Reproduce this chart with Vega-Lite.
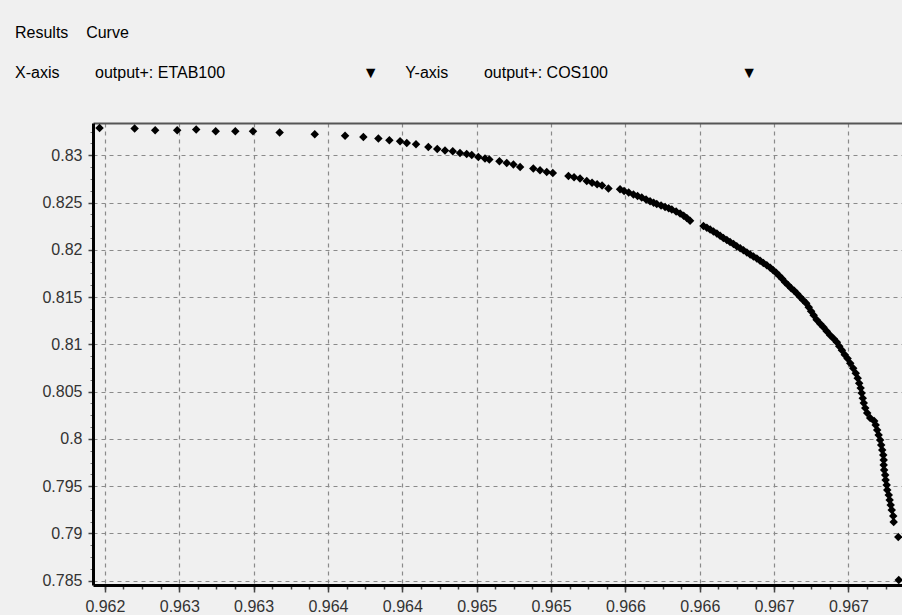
{
  "$schema": "https://vega.github.io/schema/vega-lite/v6.json",
  "width": 809,
  "height": 462,
  "autosize": {"type": "none"},
  "padding": {"left": 93, "top": 123, "right": 0, "bottom": 30},
  "background": "#f0f0f0",
  "title": {
    "text": "Results\u00a0\u00a0\u00a0\u00a0Curve",
    "subtitle": "\u00a0\u00a0X-axis\u00a0\u00a0\u00a0\u00a0\u00a0\u00a0\u00a0\u00a0output+: ETAB100\u00a0\u00a0\u00a0\u00a0\u00a0\u00a0\u00a0\u00a0\u00a0\u00a0\u00a0\u00a0\u00a0\u00a0\u00a0\u00a0\u00a0\u00a0\u00a0\u00a0\u00a0\u00a0\u00a0\u00a0\u00a0\u00a0\u00a0\u00a0\u00a0\u00a0\u00a0\u25bc\u00a0\u00a0\u00a0\u00a0\u00a0\u00a0Y-axis\u00a0\u00a0\u00a0\u00a0\u00a0\u00a0\u00a0\u00a0output+: COS100\u00a0\u00a0\u00a0\u00a0\u00a0\u00a0\u00a0\u00a0\u00a0\u00a0\u00a0\u00a0\u00a0\u00a0\u00a0\u00a0\u00a0\u00a0\u00a0\u00a0\u00a0\u00a0\u00a0\u00a0\u00a0\u00a0\u00a0\u00a0\u00a0\u00a0\u25bc",
    "anchor": "start",
    "frame": "group",
    "dx": -78,
    "offset": 42,
    "font": "Liberation Sans",
    "fontSize": 16,
    "fontWeight": "normal",
    "color": "#000",
    "subtitleFont": "Liberation Sans",
    "subtitleFontSize": 16,
    "subtitleColor": "#000",
    "subtitlePadding": 24
  },
  "data": {"values": [
    {"x": 0.961964, "y": 0.832886}, {"x": 0.9622, "y": 0.832822}, {"x": 0.962338, "y": 0.832643},
    {"x": 0.962486, "y": 0.832643}, {"x": 0.962614, "y": 0.832717}, {"x": 0.962745, "y": 0.832537},
    {"x": 0.962877, "y": 0.832537}, {"x": 0.962996, "y": 0.832537}, {"x": 0.963175, "y": 0.8324},
    {"x": 0.963411, "y": 0.83222}, {"x": 0.963615, "y": 0.832061}, {"x": 0.963738, "y": 0.831934},
    {"x": 0.963839, "y": 0.831765}, {"x": 0.963913, "y": 0.831586}, {"x": 0.963985, "y": 0.83148},
    {"x": 0.96403, "y": 0.8313}, {"x": 0.964092, "y": 0.831163}, {"x": 0.964175, "y": 0.830877},
    {"x": 0.964235, "y": 0.830666}, {"x": 0.964287, "y": 0.830497}, {"x": 0.964339, "y": 0.830423},
    {"x": 0.964388, "y": 0.830243}, {"x": 0.964433, "y": 0.830137}, {"x": 0.964467, "y": 0.830032},
    {"x": 0.964511, "y": 0.82982}, {"x": 0.964556, "y": 0.829651}, {"x": 0.964585, "y": 0.829545},
    {"x": 0.964653, "y": 0.829366}, {"x": 0.964702, "y": 0.829186}, {"x": 0.964747, "y": 0.829017},
    {"x": 0.964792, "y": 0.828763}, {"x": 0.964881, "y": 0.828594}, {"x": 0.964926, "y": 0.828414},
    {"x": 0.964971, "y": 0.828235}, {"x": 0.965012, "y": 0.828129}, {"x": 0.965117, "y": 0.827812},
    {"x": 0.965155, "y": 0.827674}, {"x": 0.965195, "y": 0.827537}, {"x": 0.96524, "y": 0.827283},
    {"x": 0.965276, "y": 0.827093}, {"x": 0.96531, "y": 0.826934}, {"x": 0.965343, "y": 0.826797},
    {"x": 0.965386, "y": 0.82648}, {"x": 0.965464, "y": 0.826406}, {"x": 0.965491, "y": 0.826216},
    {"x": 0.965522, "y": 0.826057}, {"x": 0.965554, "y": 0.825846}, {"x": 0.965582, "y": 0.825687},
    {"x": 0.96561, "y": 0.825528}, {"x": 0.965639, "y": 0.825328}, {"x": 0.965666, "y": 0.825137},
    {"x": 0.96569, "y": 0.824989}, {"x": 0.965711, "y": 0.824852}, {"x": 0.96574, "y": 0.824693},
    {"x": 0.965767, "y": 0.824535}, {"x": 0.965791, "y": 0.824397}, {"x": 0.965812, "y": 0.82426},
    {"x": 0.965841, "y": 0.824049}, {"x": 0.965868, "y": 0.823837}, {"x": 0.965892, "y": 0.823605},
    {"x": 0.965913, "y": 0.823372}, {"x": 0.965935, "y": 0.823076}, {"x": 0.966025, "y": 0.822526},
    {"x": 0.966048, "y": 0.822336}, {"x": 0.96607, "y": 0.822146}, {"x": 0.966092, "y": 0.821934},
    {"x": 0.966115, "y": 0.821723}, {"x": 0.966137, "y": 0.82149}, {"x": 0.966159, "y": 0.821258},
    {"x": 0.966182, "y": 0.821046}, {"x": 0.966204, "y": 0.820835}, {"x": 0.966227, "y": 0.820613},
    {"x": 0.966249, "y": 0.82038}, {"x": 0.966272, "y": 0.820169}, {"x": 0.966294, "y": 0.819958},
    {"x": 0.966317, "y": 0.819725}, {"x": 0.966339, "y": 0.819503}, {"x": 0.966361, "y": 0.819292},
    {"x": 0.966384, "y": 0.81908}, {"x": 0.966406, "y": 0.818848}, {"x": 0.966428, "y": 0.818615},
    {"x": 0.966451, "y": 0.818372}, {"x": 0.966474, "y": 0.818108}, {"x": 0.966494, "y": 0.817843},
    {"x": 0.966514, "y": 0.817579}, {"x": 0.966534, "y": 0.817262}, {"x": 0.966554, "y": 0.816945},
    {"x": 0.966574, "y": 0.816575}, {"x": 0.966595, "y": 0.816258}, {"x": 0.966615, "y": 0.81594},
    {"x": 0.966635, "y": 0.815676}, {"x": 0.966655, "y": 0.815359}, {"x": 0.966675, "y": 0.815021},
    {"x": 0.966696, "y": 0.814672}, {"x": 0.966716, "y": 0.814355}, {"x": 0.966733, "y": 0.813932},
    {"x": 0.966749, "y": 0.813509}, {"x": 0.966766, "y": 0.813086}, {"x": 0.966786, "y": 0.812611},
    {"x": 0.96681, "y": 0.812188}, {"x": 0.966832, "y": 0.811818}, {"x": 0.966854, "y": 0.811395},
    {"x": 0.966877, "y": 0.810972}, {"x": 0.966901, "y": 0.810602}, {"x": 0.966922, "y": 0.810232},
    {"x": 0.966938, "y": 0.809809}, {"x": 0.966956, "y": 0.809387}, {"x": 0.966975, "y": 0.808911},
    {"x": 0.966994, "y": 0.808509}, {"x": 0.967012, "y": 0.808012}, {"x": 0.967032, "y": 0.807484},
    {"x": 0.967049, "y": 0.806955}, {"x": 0.967062, "y": 0.806427}, {"x": 0.967072, "y": 0.805898},
    {"x": 0.967082, "y": 0.80537}, {"x": 0.967089, "y": 0.804841}, {"x": 0.967096, "y": 0.804312},
    {"x": 0.967103, "y": 0.803784}, {"x": 0.967113, "y": 0.803255}, {"x": 0.967126, "y": 0.802727},
    {"x": 0.967146, "y": 0.802198}, {"x": 0.967173, "y": 0.801881}, {"x": 0.967183, "y": 0.801458},
    {"x": 0.967193, "y": 0.80093}, {"x": 0.967203, "y": 0.800401}, {"x": 0.967213, "y": 0.799873},
    {"x": 0.96722, "y": 0.799344}, {"x": 0.967227, "y": 0.798816}, {"x": 0.967234, "y": 0.798287},
    {"x": 0.967237, "y": 0.797758}, {"x": 0.967237, "y": 0.79723}, {"x": 0.96724, "y": 0.796701},
    {"x": 0.967247, "y": 0.796173}, {"x": 0.96725, "y": 0.795644}, {"x": 0.967257, "y": 0.795116},
    {"x": 0.967261, "y": 0.794587}, {"x": 0.967271, "y": 0.794059}, {"x": 0.967277, "y": 0.79353},
    {"x": 0.967284, "y": 0.793001}, {"x": 0.967291, "y": 0.792473}, {"x": 0.967301, "y": 0.791839},
    {"x": 0.967304, "y": 0.791204}, {"x": 0.967335, "y": 0.789619}, {"x": 0.967338, "y": 0.785073}
  ]},
  "layer": [
    {
      "mark": {"type": "point", "opacity": 0},
      "encoding": {
        "x": {"field": "x", "type": "quantitative", "scale": {"domain": [0.96192, 0.96736], "nice": false, "zero": false},
          "axis": {"orient": "bottom", "title": null, "domain": false, "grid": false, "labels": false, "tickSize": 4, "tickWidth": 1.5, "tickColor": "#444",
            "values": [0.962, 0.962125, 0.96225, 0.962375, 0.9625, 0.962625, 0.96275, 0.962875, 0.963, 0.963125, 0.96325, 0.963375, 0.9635, 0.963625, 0.96375, 0.963875, 0.964, 0.964125, 0.96425, 0.964375, 0.9645, 0.964625, 0.96475, 0.964875, 0.965, 0.965125, 0.96525, 0.965375, 0.9655, 0.965625, 0.96575, 0.965875, 0.966, 0.966125, 0.96625, 0.966375, 0.9665, 0.966625, 0.96675, 0.966875, 0.967, 0.967125, 0.96725]}},
        "y": {"field": "y", "type": "quantitative", "scale": {"domain": [0.784545, 0.833414], "nice": false, "zero": false},
          "axis": {"orient": "left", "title": null, "domain": false, "grid": false, "labels": false, "tickSize": 3, "tickWidth": 1, "tickColor": "#777",
            "values": [0.78625, 0.7875, 0.78875, 0.79125, 0.7925, 0.79375, 0.79625, 0.7975, 0.79875, 0.80125, 0.8025, 0.80375, 0.80625, 0.8075, 0.80875, 0.81125, 0.8125, 0.81375, 0.81625, 0.8175, 0.81875, 0.82125, 0.8225, 0.82375, 0.82625, 0.8275, 0.82875, 0.83125, 0.8325]}}
      }
    },
    {
      "mark": {"type": "point", "opacity": 0},
      "encoding": {
        "x": {"field": "x", "type": "quantitative", "scale": {"domain": [0.96192, 0.96736], "nice": false, "zero": false},
          "axis": {"orient": "top", "title": null, "domain": true, "domainColor": "#555", "domainWidth": 2, "ticks": false, "labels": false, "grid": false}},
        "y": {"field": "y", "type": "quantitative", "scale": {"domain": [0.784545, 0.833414], "nice": false, "zero": false}, "axis": null}
      }
    },
    {
      "mark": {"type": "point", "shape": "diamond", "filled": true, "size": 72, "color": "#000", "opacity": 1},
      "encoding": {
        "x": {"field": "x", "type": "quantitative", "scale": {"domain": [0.96192, 0.96736], "nice": false, "zero": false},
          "axis": {"orient": "bottom", "title": null,
            "values": [0.962, 0.9625, 0.963, 0.9635, 0.964, 0.9645, 0.965, 0.9655, 0.966, 0.9665, 0.967],
            "labelExpr": "format(datum.value + 1e-9, '.3f')",
            "grid": true, "gridColor": "#8a8a8a", "gridDash": [4, 4], "gridWidth": 1.2,
            "domainColor": "#000", "domainWidth": 3,
            "tickColor": "#444", "tickSize": 7, "tickWidth": 1.5,
            "labelFont": "Liberation Sans", "labelFontSize": 16, "labelColor": "#333", "labelPadding": 6,
            "labelFlush": false, "labelOverlap": false}},
        "y": {"field": "y", "type": "quantitative", "scale": {"domain": [0.784545, 0.833414], "nice": false, "zero": false},
          "axis": {"orient": "left", "title": null,
            "values": [0.785, 0.79, 0.795, 0.8, 0.805, 0.81, 0.815, 0.82, 0.825, 0.83],
            "format": ".3~f",
            "grid": true, "gridColor": "#8a8a8a", "gridDash": [4, 4], "gridWidth": 1.2,
            "domainColor": "#000", "domainWidth": 3,
            "tickColor": "#444", "tickSize": 5, "tickWidth": 1.5,
            "labelFont": "Liberation Sans", "labelFontSize": 16, "labelColor": "#333", "labelPadding": 6,
            "labelFlush": false, "labelOverlap": false}}
      }
    }
  ],
  "resolve": {"axis": {"x": "independent", "y": "independent"}},
  "config": {"view": {"stroke": null}}
}
